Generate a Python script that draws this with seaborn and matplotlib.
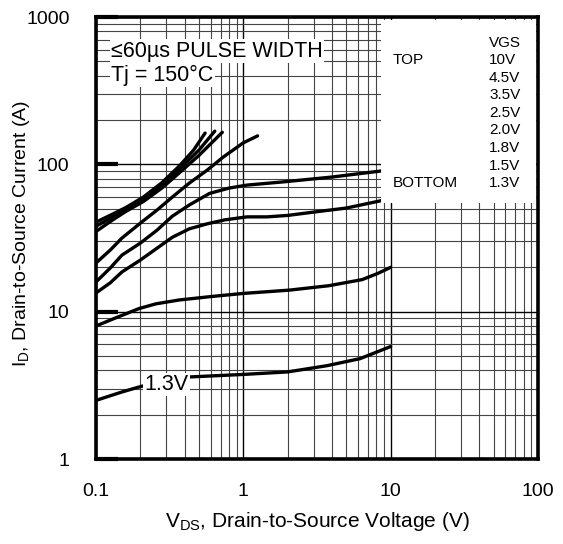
import numpy as np
import pandas as pd
import matplotlib
matplotlib.use('Agg')
import matplotlib.pyplot as plt
import seaborn as sns
from matplotlib.patches import Rectangle
from matplotlib.ticker import FixedLocator, LogLocator, NullFormatter

# Output characteristics, Tj = 150C
vds_10v = [0.1, 0.13, 0.16, 0.21, 0.28, 0.37, 0.46, 0.55]
id_10v = [40.5, 46, 51, 60, 75, 98, 125, 163]

vds_4v5 = [0.1, 0.13, 0.16, 0.21, 0.28, 0.37, 0.5, 0.64]
id_4v5 = [38, 44, 49.5, 58, 72, 93, 125, 168]

vds_3v5 = [0.1, 0.13, 0.16, 0.21, 0.28, 0.37, 0.5, 0.72]
id_3v5 = [35, 42, 48, 56, 69, 88, 115, 165]

vds_2v5 = [0.1, 0.125, 0.15, 0.2, 0.26, 0.33, 0.43, 0.57, 0.73, 1.0, 1.25]
id_2v5 = [21.4, 26.2, 31.6, 39.9, 49, 60, 74.6, 91.5, 112, 140, 156]

vds_2v0 = [0.1, 0.125, 0.15, 0.2, 0.26, 0.33, 0.43, 0.59, 0.8, 1.06, 1.86, 4.0, 8.5, 10.0]
id_2v0 = [15.9, 19.8, 24.2, 29.2, 35.8, 44.5, 53, 63.5, 69, 72.3, 76, 82, 90, 93]

vds_1v8 = [0.1, 0.125, 0.15, 0.2, 0.26, 0.33, 0.43, 0.57, 0.75, 1.06, 1.45, 2.0, 3.1, 5.0, 8.5, 10.0]
id_1v8 = [13.4, 15.7, 18.6, 22.4, 27.0, 32.0, 36.5, 39.5, 42.0, 44.0, 44.0, 45.0, 47.6, 50.5, 56.5, 59]

vds_1v5 = [0.1, 0.137, 0.196, 0.255, 0.366, 0.62, 1.0, 2.05, 3.8, 6.4, 8.2, 10.0]
id_1v5 = [8.0, 9.1, 10.5, 11.3, 12.0, 12.7, 13.3, 14.0, 15.0, 16.5, 18.2, 20.0]

vds_1v3 = [0.1, 0.15, 0.2, 0.3, 0.42, 1.0, 2.0, 3.7, 6.2, 10.0]
id_1v3 = [2.5, 2.85, 3.1, 3.4, 3.6, 3.75, 3.9, 4.3, 4.8, 5.8]

vgs_labels = ['10V', '4.5V', '3.5V', '2.5V', '2.0V', '1.8V', '1.5V', '1.3V']
x_ticks = [0.1, 1, 10, 100]
x_tick_labels = ['0.1', '1', '10', '100']
y_ticks = [1, 10, 100, 1000]
y_tick_labels = ['1', '10', '100', '1000']

curves = [(vds_10v, id_10v), (vds_4v5, id_4v5), (vds_3v5, id_3v5),
          (vds_2v5, id_2v5), (vds_2v0, id_2v0), (vds_1v8, id_1v8),
          (vds_1v5, id_1v5), (vds_1v3, id_1v3)]

sns.set_style('white')
plt.rcParams['font.family'] = ['Liberation Sans', 'DejaVu Sans']
plt.rcParams['mathtext.fontset'] = 'custom'
plt.rcParams['mathtext.rm'] = 'Liberation Sans'
plt.rcParams['mathtext.it'] = 'Liberation Sans:italic'
for key in ['text.color', 'axes.labelcolor', 'xtick.color', 'ytick.color']:
    plt.rcParams[key] = 'black'

fig = plt.figure(figsize=(5.63, 5.44), dpi=100)
ax = fig.add_axes([96 / 563, 85 / 544, 442 / 563, 442 / 544])

for vds, cur in curves:
    sns.lineplot(x=vds, y=cur, ax=ax, color='black', lw=2.4, zorder=4)

ax.set_xscale('log')
ax.set_yscale('log')
ax.set_xlim(0.1, 100)
ax.set_ylim(1, 1000)

# grid
ax.xaxis.set_major_locator(FixedLocator(x_ticks))
ax.yaxis.set_major_locator(FixedLocator(y_ticks))
ax.set_xticklabels(x_tick_labels)
ax.set_yticklabels(y_tick_labels)
ax.xaxis.set_minor_locator(LogLocator(base=10, subs=np.arange(2, 10)))
ax.yaxis.set_minor_locator(LogLocator(base=10, subs=np.arange(2, 10)))
ax.xaxis.set_minor_formatter(NullFormatter())
ax.yaxis.set_minor_formatter(NullFormatter())
ax.set_axisbelow(True)
ax.grid(which='major', color='black', lw=1.0)
ax.grid(which='minor', color='#444444', lw=0.8)

ax.tick_params(axis='y', which='major', direction='in', length=16, width=3,
               color='black', left=True, labelsize=14, pad=19)
ax.tick_params(axis='x', which='major', length=0, labelsize=14, pad=17)
ax.tick_params(which='minor', length=0)

for sp in ax.spines.values():
    sp.set_linewidth(2.6)
    sp.set_color('black')
    sp.set_zorder(10)

ax.set_xlabel('V$_{\\mathrm{DS}}$, Drain-to-Source Voltage (V)', fontsize=15)
ax.set_ylabel('I$_{\\mathrm{D}}$, Drain-to-Source Current (A)', fontsize=14)
ax.xaxis.set_label_coords(0.5, -0.115)
ax.yaxis.set_label_coords(-0.145, 0.51)

# legend box
ax.add_patch(Rectangle((0.645, 0.579), 0.35, 0.414, transform=ax.transAxes,
                       facecolor='white', edgecolor='none', zorder=5))


def fx(px):
    return (px - 96) / 442


def fy(py):
    return (459 - py) / 442


ax.text(fx(489), fy(43), 'VGS', transform=ax.transAxes, fontsize=11,
        ha='left', va='center', zorder=6)
ax.text(fx(393), fy(60), 'TOP', transform=ax.transAxes, fontsize=11,
        ha='left', va='center', zorder=6)
ax.text(fx(393), fy(183), 'BOTTOM', transform=ax.transAxes, fontsize=11,
        ha='left', va='center', zorder=6)
for i, lab in enumerate(vgs_labels):
    ax.text(fx(489), fy(60 + i * 17.6), lab, transform=ax.transAxes,
            fontsize=11, ha='left', va='center', zorder=6)

box = dict(facecolor='white', edgecolor='none', pad=1)
ax.text(fx(111), fy(51), '\u226460\u00b5s PULSE WIDTH', transform=ax.transAxes,
        fontsize=15.5, ha='left', va='center', bbox=box, zorder=6)
ax.text(fx(111), fy(75), 'Tj = 150\u00b0C', transform=ax.transAxes,
        fontsize=15.5, ha='left', va='center', bbox=box, zorder=6)
ax.text(0.30, 3.2, '1.3V', fontsize=15.5, ha='center', va='center',
        bbox=box, zorder=6)

fig.savefig('out.png', dpi=100)
